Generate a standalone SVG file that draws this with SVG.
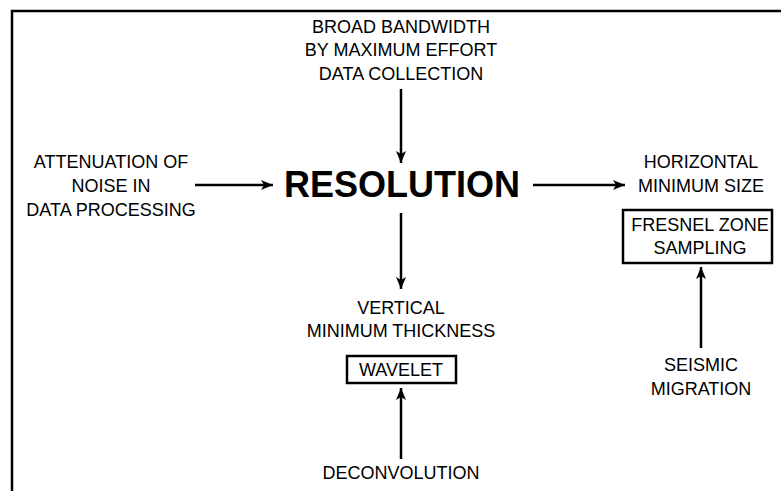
<svg xmlns="http://www.w3.org/2000/svg" width="781" height="491" viewBox="0 0 781 491">
<style>
text{font-family:"Liberation Sans",Arial,sans-serif;font-size:18px;fill:#000;text-anchor:middle}
.big{font-size:36px;font-weight:bold}
.box{fill:none;stroke:#000;stroke-width:2.5}
.c{stroke:#000;stroke-width:2.5;fill:none}
</style>
<defs>
<marker id="ah" viewBox="0 0 12 10" refX="12" refY="5" markerWidth="12" markerHeight="10" markerUnits="userSpaceOnUse" orient="auto">
<path d="M0,0 L12,5 L0,10 L3,5 Z" fill="#000"/>
</marker>
</defs>
<rect width="781" height="491" fill="#fff"/>
<path d="M12,491 V11 H781" fill="none" stroke="#000" stroke-width="2.5"/>
<g id="connectors">
<line class="c" x1="401" y1="89" x2="401" y2="163" marker-end="url(#ah)"/>
<line class="c" x1="195" y1="185" x2="273" y2="185" marker-end="url(#ah)"/>
<line class="c" x1="533" y1="185" x2="625" y2="185" marker-end="url(#ah)"/>
<line class="c" x1="401" y1="213" x2="401" y2="289" marker-end="url(#ah)"/>
<line class="c" x1="701" y1="348" x2="701" y2="267" marker-end="url(#ah)"/>
<line class="c" x1="401" y1="459" x2="401" y2="388" marker-end="url(#ah)"/>
</g>
<g id="resolution"><text class="big" x="402" y="197">RESOLUTION</text></g>
<g id="broad">
<text x="401" y="32.5">BROAD BANDWIDTH</text>
<text x="401" y="56">BY MAXIMUM EFFORT</text>
<text x="401" y="79.5">DATA COLLECTION</text>
</g>
<g id="attenuation">
<text x="111" y="167.5">ATTENUATION OF</text>
<text x="111" y="191.5">NOISE IN</text>
<text x="111" y="215.5">DATA PROCESSING</text>
</g>
<g id="horizontal">
<text x="701" y="167.5">HORIZONTAL</text>
<text x="701" y="191.5">MINIMUM SIZE</text>
</g>
<g id="fresnel">
<rect class="box" x="623" y="210" width="149" height="53"/>
<text x="700" y="230.5">FRESNEL ZONE</text>
<text x="700" y="253.5">SAMPLING</text>
</g>
<g id="vertical">
<text x="401" y="313.5">VERTICAL</text>
<text x="401" y="336.5">MINIMUM THICKNESS</text>
</g>
<g id="wavelet">
<rect class="box" x="347" y="356" width="109" height="27"/>
<text x="401" y="375.5">WAVELET</text>
</g>
<g id="seismic">
<text x="701" y="370.5">SEISMIC</text>
<text x="701" y="394.5">MIGRATION</text>
</g>
<g id="deconvolution"><text x="401" y="478.5">DECONVOLUTION</text></g>
</svg>
